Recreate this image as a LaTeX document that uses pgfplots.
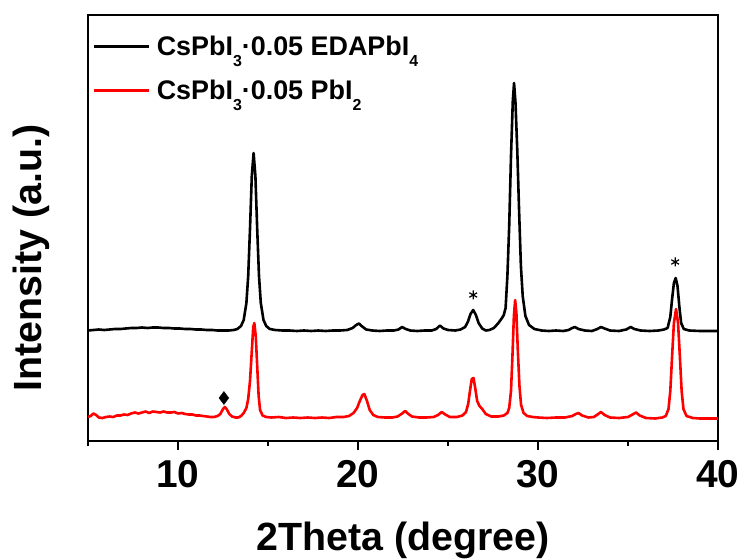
\documentclass[border=0pt]{standalone}
\usepackage{fontspec}
\setmainfont{Liberation Sans}
\usepackage{pgfplots}
\pgfplotsset{compat=1.18}
\newcommand{\sub}[1]{\raisebox{-11bp}{\fontsize{16}{16}\selectfont\bfseries #1}}
\begin{document}
\begin{tikzpicture}
\begin{axis}[
  scale only axis,
  width=630bp, height=426bp,
  xmin=5, xmax=40, ymin=0, ymax=426,
  xtick={10,20,30,40},
  minor xtick={5,15,25,35},
  ytick=\empty,
  xtick pos=bottom,
  tick align=outside,
  major tick length=9bp,
  minor tick length=5bp,
  every tick/.style={line width=1.5bp, black},
  axis line style={line width=1.5bp},
  /pgf/number format/assume math mode=true,
  xticklabel style={font=\fontsize{39}{39}\selectfont\bfseries, anchor=base, yshift=-37bp},
  xlabel={2Theta (degree)},
  ylabel={Intensity (a.u.)},
  xlabel style={font=\fontsize{39.5}{40}\selectfont\bfseries, at={(axis description cs:0.5,-0.2559)}, anchor=base, inner sep=0pt},
  ylabel style={font=\fontsize{39.5}{40}\selectfont\bfseries, at={(axis description cs:-0.0598,0.4296)}, anchor=south, inner sep=0pt},
  legend style={draw=none, fill=none, at={(axis description cs:0,1)}, anchor=north west,
    xshift=5bp, yshift=-19bp,
    font=\fontsize{27}{27}\selectfont\bfseries, row sep=19bp, inner sep=0pt},
  legend cell align=left,
  legend image code/.code={\draw[#1] (0bp,0bp) -- (55bp,0bp); \path (59bp,0bp);},
  clip=true,
]
\coordinate (sw) at (rel axis cs:0,0);
\addplot[black, line width=2.6bp, line join=round] coordinates {
(5.0,110.5) (5.3,111) (5.6,111.5) (5.9,111) (6.2,111.5) (6.5,112) (6.8,112) (7.1,112.5) (7.4,113) (7.7,113) (8.0,113.5) (8.3,113) (8.6,113.5) (8.9,113.5) (9.2,113) (9.5,113) (9.8,112.5) (10.1,112.5) (10.4,112) (10.7,112) (11.0,111.5) (11.3,111.5) (11.6,111) (11.9,111) (12.2,110.5) (12.5,110.5) (12.8,110.5) (13.1,111) (13.3,112) (13.5,115) (13.65,121) (13.8,138) (13.9,165) (14.0,212) (14.1,265) (14.2,288) (14.3,265) (14.4,212) (14.5,165) (14.6,138) (14.75,121) (14.9,115) (15.1,112) (15.4,111) (15.8,110.5) (16.2,110.5) (16.6,110) (17.0,110.5) (17.4,110) (17.8,110.5) (18.2,110) (18.6,110.5) (19.0,110.5) (19.4,111) (19.7,113) (19.9,116) (20.05,117.5) (20.2,115) (20.45,111.5) (20.8,110.5) (21.2,110) (21.6,110.5) (22.0,110.5) (22.25,111.5) (22.45,114) (22.65,112) (22.9,110.5) (23.3,110) (23.7,110.5) (24.1,110.5) (24.35,112) (24.55,115.5) (24.75,112.5) (25.0,111) (25.4,110.5) (25.7,111.5) (25.95,114) (26.1,119) (26.25,127) (26.4,131) (26.55,126) (26.7,118) (26.9,112.5) (27.1,110.5) (27.3,111) (27.55,113) (27.8,118) (28.0,123) (28.1,126) (28.2,133) (28.3,165) (28.4,215) (28.5,285) (28.6,340) (28.67,358) (28.75,338) (28.85,290) (28.95,230) (29.05,175) (29.15,145) (29.3,125) (29.5,116) (29.8,112) (30.2,110.5) (30.6,110) (31.0,110.5) (31.4,110) (31.7,111) (31.9,113) (32.05,114) (32.25,112) (32.6,110.5) (33.0,110) (33.3,112) (33.5,114) (33.7,112.5) (34.0,110.5) (34.5,110) (34.9,111.5) (35.15,114) (35.35,112) (35.7,110.5) (36.2,110) (36.7,110.5) (37.0,111.5) (37.2,113) (37.35,124) (37.45,142) (37.55,158) (37.65,163) (37.75,155) (37.85,135) (37.95,118) (38.1,112) (38.4,110.5) (39.0,110) (39.5,110) (40.0,110)
};
\addlegendentry{CsPbI\sub{3}·0.05 EDAPbI\sub{4}}
\addplot[red, line width=2.6bp, line join=round] coordinates {
(5.0,24) (5.15,25) (5.3,27.5) (5.45,26) (5.6,23.5) (5.8,23) (6.0,24) (6.2,24.5) (6.4,24) (6.6,25.5) (6.8,25.5) (7.0,26.5) (7.2,26) (7.4,27.5) (7.6,28.5) (7.8,27.5) (8.0,28.5) (8.2,29.5) (8.4,28) (8.6,29.5) (8.8,29) (9.0,28.5) (9.2,29.5) (9.4,28.5) (9.6,28.5) (9.8,29) (10.0,27.5) (10.2,28) (10.4,27) (10.6,26.5) (10.8,26.5) (11.0,25.5) (11.2,25.5) (11.4,25) (11.6,24.5) (11.8,24) (12.0,24) (12.2,25) (12.35,27) (12.5,32) (12.6,34) (12.7,32) (12.85,27) (13.0,24.5) (13.2,23.5) (13.35,23.5) (13.5,25) (13.65,28) (13.8,33) (13.9,42) (14.0,60) (14.1,90) (14.18,114) (14.24,118) (14.32,105) (14.4,75) (14.48,45) (14.56,31) (14.7,25.5) (14.9,24) (15.2,23.5) (15.6,24) (16.0,23) (16.4,23.5) (16.8,23) (17.2,23.5) (17.6,23) (18.0,23.5) (18.4,23) (18.8,24) (19.2,24) (19.5,25) (19.75,28) (19.95,33) (20.1,40) (20.25,46) (20.35,47) (20.5,40) (20.65,31) (20.85,26) (21.1,24) (21.5,23.5) (21.9,23.5) (22.2,24.5) (22.45,27.5) (22.62,30) (22.8,27) (23.0,24.5) (23.4,23.5) (23.8,23.5) (24.2,24) (24.45,26) (24.65,29) (24.85,26.5) (25.1,24) (25.5,24) (25.8,25.5) (26.0,29) (26.12,37) (26.22,50) (26.32,62) (26.42,63) (26.52,52) (26.62,40) (26.75,35) (26.9,32) (27.1,27) (27.4,24.5) (27.8,24.5) (28.1,25.5) (28.3,28) (28.4,33) (28.5,50) (28.58,85) (28.66,125) (28.73,141) (28.8,128) (28.88,90) (28.97,55) (29.06,36) (29.2,28) (29.4,25) (29.7,24) (30.0,23.5) (30.5,23) (31.0,23.5) (31.5,23.5) (31.9,25) (32.1,27) (32.25,28) (32.45,25.5) (32.8,23.5) (33.1,24) (33.35,27) (33.5,29) (33.7,26) (34.0,23.5) (34.5,23) (35.0,24) (35.25,26.5) (35.45,28.5) (35.65,25.5) (36.0,23) (36.5,22.5) (36.9,23.5) (37.1,25) (37.25,32) (37.35,50) (37.45,85) (37.55,118) (37.67,132) (37.78,118) (37.88,85) (37.98,50) (38.08,32) (38.25,25) (38.6,23) (39.0,22.5) (39.5,22.5) (40.0,22.5)
};
\addlegendentry{CsPbI\sub{3}·0.05 PbI\sub{2}}
\addplot[forget plot, only marks, mark=diamond*, mark size=6.5bp, black] coordinates {(12.55,43)};
\addplot[forget plot, only marks, mark=asterisk, mark size=4.5bp, black, line width=1.2bp] coordinates {(26.4,146) (37.62,179)};
\end{axis}
\pgfresetboundingbox
\path[use as bounding box] (sw) ++(-88bp,-118bp) rectangle ++(742bp,559bp);
\end{tikzpicture}
\end{document}
